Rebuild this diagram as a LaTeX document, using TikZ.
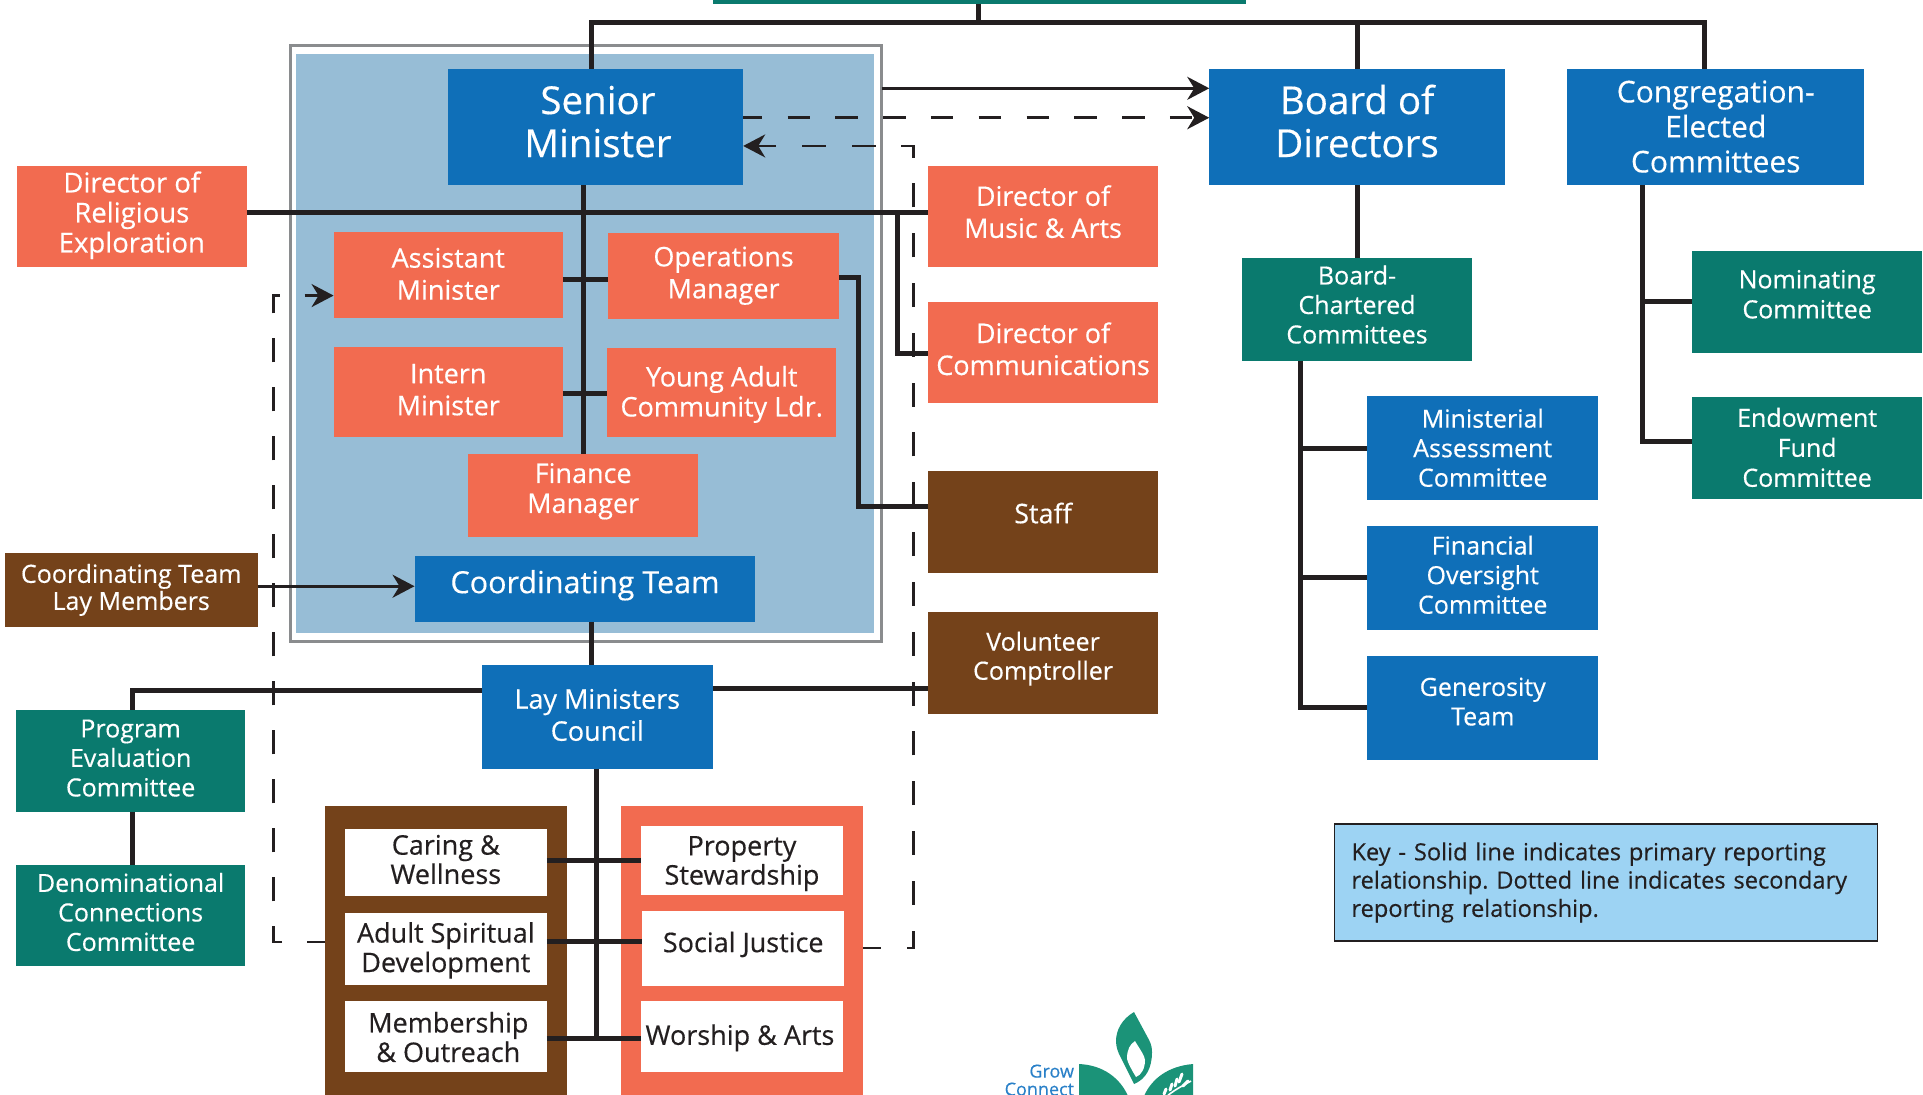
\documentclass[tikz,border=0pt]{standalone}
\usepackage{fontspec}
\setmainfont[FakeBold=0.4]{Open Sans}
\usetikzlibrary{arrows.meta,calc}
\definecolor{cblue}{HTML}{0F6FB8}
\definecolor{corange}{HTML}{F26B50}
\definecolor{cteal}{HTML}{0A7A6E}
\definecolor{cbrown}{HTML}{74421A}
\definecolor{clight}{HTML}{97BDD6}
\definecolor{cgray}{HTML}{8A8C8E}
\definecolor{cline}{HTML}{231F20}
\definecolor{ckey}{HTML}{9DD3F3}
\definecolor{clogo}{HTML}{1B9378}
\definecolor{cgrow}{HTML}{2980C8}
\newcommand\fs[2]{\fontsize{#1}{#2}\selectfont}
\def\bxoff#1,#2\relax{\def\bxdx{#1}\def\bxdy{#2}}
\newcommand\bxt[3]{\bxoff#2\relax#1\sbox0{\begin{tabular}[c]{@{}c@{}}#3\end{tabular}}\hspace*{\bxdx pt}\raisebox{\dimexpr \bxdy pt-(\ht0-\dp0)/2\relax}[0pt][0pt]{\usebox0}\hspace*{-\bxdx pt}}
\newcommand\bx[9]{%
 \pgfmathsetmacro\cx{(#2+#4)/2}\pgfmathsetmacro\cy{(#3+#5)/2}%
 \pgfmathsetmacro\bw{(#4-#2)*1.2264}\pgfmathsetmacro\bh{(#5-#3)*1.2264}%
 \node[#6,minimum width=\bw pt,minimum height=\bh pt] (#1) at (\cx,\cy) {\bxt{#7}{#8}{#9}};}
\tikzset{
 base/.style={inner sep=0pt,outer sep=0pt,rectangle},
 bluebox/.style={base,fill=cblue,text=white},
 orangebox/.style={base,fill=corange,text=white},
 tealbox/.style={base,fill=cteal,text=white},
 brownbox/.style={base,fill=cbrown,text=white},
 whitebox/.style={base,fill=white,text=cline},
 main/.style={draw=cline,line width=5pt,line cap=butt,line join=miter},
 thinline/.style={draw=cline,line width=2.6pt},
 dashline/.style={draw=cline,line width=2.6pt},
 tip/.style={-{Stealth[length=22pt,width=23pt,inset=7pt]}},
}
\begin{document}
\begin{tikzpicture}[x=1.2264pt,y=-1.2264pt]
\useasboundingbox (0,0) rectangle (1568,892.85);
\clip (0,0) rectangle (1568,892.85);
% helper columns and rows
\foreach \v in {476,482,486,732,700,745,223,798,1107,1390,1060,1339,108}{\coordinate (x\v) at (\v,0);}
\foreach \v in {18,72,96,119,173,228,321,241,226,413,288,478,563,561,702,768,773,847,366,471,577,246,360}{\coordinate (y\v) at (0,\v);}
% panels
\bx{panel}{241}{44}{713}{516}{base,fill=clight}{}{0,0}{}
\bx{frame}{237}{37}{719}{523}{base,draw=cgray,line width=2.6pt}{}{0,0}{}
\bx{brownpanel}{265}{657}{462}{900}{base,fill=cbrown}{}{0,0}{}
\bx{orangepanel}{506.5}{657}{704}{900}{base,fill=corange}{}{0,0}{}
% boxes
\bx{topbar}{581}{-10}{1016}{3}{tealbox}{}{0,0}{}
\bx{senior}{365}{56}{606}{151}{bluebox}{\fs{38.5}{43}}{2.5,0}{Senior\\Minister}
\bx{board}{986}{56}{1227}{151}{bluebox}{\fs{38.5}{43}}{0,0}{Board of\\Directors}
\bx{congr}{1278}{56}{1520}{151}{bluebox}{\fs{30}{35}}{0,-3.5}{Congregation-\\Elected\\Committees}
\bx{relig}{14}{135}{201}{218}{orangebox}{\fs{27.5}{30}}{0,0}{Director of\\Religious\\Exploration}
\bx{assist}{272}{189}{459}{259}{orangebox}{\fs{27}{32}}{0,-2.5}{Assistant\\Minister}
\bx{oper}{496}{190}{684}{260}{orangebox}{\fs{27}{32}}{0,0}{Operations\\Manager}
\bx{intern}{272}{283}{459}{356}{orangebox}{\fs{27}{32}}{0,-1}{Intern\\Minister}
\bx{young}{495}{284}{682}{356}{orangebox}{\fs{27}{30}}{0,-3}{Young Adult\\Community Ldr.}
\bx{finance}{382}{370}{569}{438}{orangebox}{\fs{27}{30}}{0,3.5}{Finance\\Manager}
\bx{coord}{338}{453}{616}{507}{bluebox}{\fs{30.5}{35}}{0,2.5}{Coordinating Team}
\bx{coordlay}{4}{451}{210}{511}{brownbox}{\fs{25}{27}}{0,-1}{Coordinating Team\\Lay Members}
\bx{music}{757}{135}{944}{218}{orangebox}{\fs{27}{32}}{0,1}{Director of\\Music \& Arts}
\bx{comm}{757}{246}{944}{329}{orangebox}{\fs{27}{32}}{0,0}{Director of\\Communications}
\bx{staff}{757}{384}{944}{467}{brownbox}{\fs{27}{32}}{0,5}{Staff}
\bx{comptr}{757}{499}{944}{582}{brownbox}{\fs{25}{29}}{0,3.5}{Volunteer\\Comptroller}
\bx{chart}{1013}{210}{1200}{294}{tealbox}{\fs{25}{29.5}}{0,1}{Board-\\Chartered\\Committees}
\bx{nomin}{1380}{205}{1567}{288}{tealbox}{\fs{25}{30}}{0,5}{Nominating\\Committee}
\bx{endow}{1380}{324}{1567}{407}{tealbox}{\fs{25}{30}}{0,-2.5}{Endowment\\Fund\\Committee}
\bx{assess}{1115}{323}{1303}{408}{bluebox}{\fs{25}{29.5}}{0,-3}{Ministerial\\Assessment\\Committee}
\bx{financial}{1115}{429}{1303}{514}{bluebox}{\fs{25}{29.5}}{0,0}{Financial\\Oversight\\Committee}
\bx{generos}{1115}{535}{1303}{620}{bluebox}{\fs{25}{29.5}}{0,3.5}{Generosity\\Team}
\bx{council}{393}{542}{581}{627}{bluebox}{\fs{27}{32}}{0,-1.5}{Lay Ministers\\Council}
\bx{progr}{13}{579}{200}{662}{tealbox}{\fs{25}{29.5}}{0,0}{Program\\Evaluation\\Committee}
\bx{denom}{13}{705}{200}{788}{tealbox}{\fs{25}{29.5}}{0,0}{Denominational\\Connections\\Committee}
\bx{caring}{281}{676}{446}{730.5}{whitebox}{\fs{27}{29}}{0,-1}{Caring \&\\Wellness}
\bx{adult}{281}{744.5}{446}{803}{whitebox}{\fs{27}{29.5}}{0,-2.5}{Adult Spiritual\\Development}
\bx{member}{281}{816}{446}{874}{whitebox}{\fs{27}{29.5}}{2.5,-5}{Membership\\\& Outreach}
\bx{property}{522.5}{673.5}{687.5}{730}{whitebox}{\fs{27}{29}}{0,-3.5}{Property\\Stewardship}
\bx{social}{523.5}{743}{688.5}{804}{whitebox}{\fs{27}{30}}{0,2.5}{Social Justice}
\bx{worship}{522.5}{816}{687.5}{874}{whitebox}{\fs{27}{30}}{-2,-2.5}{Worship \& Arts}
\node[base,fill=ckey,draw=cline,line width=1.8pt,text=cline,minimum width=543pt,minimum height=116.5pt,align=left,text width=509pt,font=\fs{23.6}{28.3}\frenchspacing] (key) at (1309.5,719.5) {Key - Solid line indicates primary reporting\\relationship. Dotted line indicates secondary\\reporting relationship.};
% solid connectors
\draw[main] (topbar.south -| x798) -- (x798 |- y18);
\draw[main] (senior.north -| x482) -- (x482 |- y18) -- (x1390 |- y18) -- (congr.north -| x1390);
\draw[main] (board.north -| x1107) -- (x1107 |- y18);
\draw[main] (senior.south -| x476) -- (finance.north -| x476);
\draw[main] (relig.east |- y173) -- (music.west |- y173);
\draw[main] (assist.east |- y228) -- (oper.west |- y228);
\draw[main] (intern.east |- y321) -- (young.west |- y321);
\draw[main] (oper.east |- y226) -- (x700 |- y226) -- (x700 |- y413) -- (staff.west |- y413);
\draw[main] (x732 |- y173) -- (x732 |- y288) -- (comm.west |- y288);
\draw[main] (coord.south -| x482) -- (council.north -| x482);
\draw[main] (council.west |- y563) -- (x108 |- y563) -- (progr.north -| x108);
\draw[main] (council.east |- y561) -- (comptr.west |- y561);
\draw[main] (progr.south -| x108) -- (denom.north -| x108);
\draw[main] (council.south -| x486) -- (x486 |- y847);
\draw[main] (caring.east |- y702) -- (property.west |- y702);
\draw[main] (adult.east |- y768) -- (social.west |- y768);
\draw[main] (member.east |- y847) -- (worship.west |- y847);
\draw[main] (board.south -| x1107) -- (chart.north -| x1107);
\draw[main] (chart.south -| x1060) -- (x1060 |- y577) -- (generos.west |- y577);
\draw[main] (x1060 |- y366) -- (assess.west |- y366);
\draw[main] (x1060 |- y471) -- (financial.west |- y471);
\draw[main] (congr.south -| x1339) -- (x1339 |- y360) -- (endow.west |- y360);
\draw[main] (x1339 |- y246) -- (nomin.west |- y246);
% thin connectors
\draw[thinline,tip] (coordlay.east |- y478) -- (coord.west |- y478);
\draw[thinline,tip] (frame.east |- y72) -- (board.west |- y72);
% dashed connectors
\draw[dashline,tip,dash pattern=on 22.5pt off 25.3pt,dash phase=3.5pt] (senior.east |- y96) -- (board.west |- y96);
\draw[dashline,tip,dash pattern=on 24pt off 25.8pt,dash phase=6pt] (orangepanel.east |- y773) -- (x745 |- y773) -- (x745 |- y119) -- (senior.east |- y119);
\draw[dashline,tip,dash pattern=on 24pt off 25pt,dash phase=6pt] (brownpanel.west |- y768) -- (x223 |- y768) -- (x223 |- y241) -- (assist.west |- y241);
% logo
\begin{scope}[x=1pt,y=-1pt]
\fill[clogo] (1134,1012) .. controls (1122,1019) and (1116,1030) .. (1116,1041) .. controls (1116,1047) and (1118,1052) .. (1120,1056) -- (1134,1084) .. controls (1146,1079) and (1152,1068) .. (1152,1052) .. controls (1152,1045) and (1150,1042) .. (1148,1038) -- cycle;
\fill[white] (1135,1041) .. controls (1130,1044) and (1127,1050) .. (1127,1058) .. controls (1127,1062) and (1133,1072) .. (1136,1077) .. controls (1141,1075) and (1145,1069) .. (1145,1060) .. controls (1145,1056) and (1139,1048) .. (1135,1041) -- cycle;
\fill[clogo] (1079,1064) .. controls (1103,1065) and (1120,1078) .. (1128,1096) -- (1128,1100) -- (1079,1100) -- cycle;
\fill[clogo] (1193,1064) .. controls (1169,1066) and (1152,1078) .. (1144,1096) -- (1144,1100) -- (1193,1100) -- cycle;
\draw[white,line width=1.6pt] (1166,1097) .. controls (1174,1090) and (1182,1086) .. (1191,1081);
\foreach \a/\b/\c/\d in {1179/1082/1182/1074,1175/1086/1177/1079,1170/1090/1172/1084,1164/1094/1166/1089,1183/1086/1188/1081}{\draw[white,line width=3pt,line cap=round] (\a,\b) -- (\c,\d);}
\node[base,anchor=north east,text=cgrow,font=\fs{18}{18},align=right] (logotext) at (1074,1064.5) {Grow\\Connect};
\end{scope}
\end{tikzpicture}
\end{document}
